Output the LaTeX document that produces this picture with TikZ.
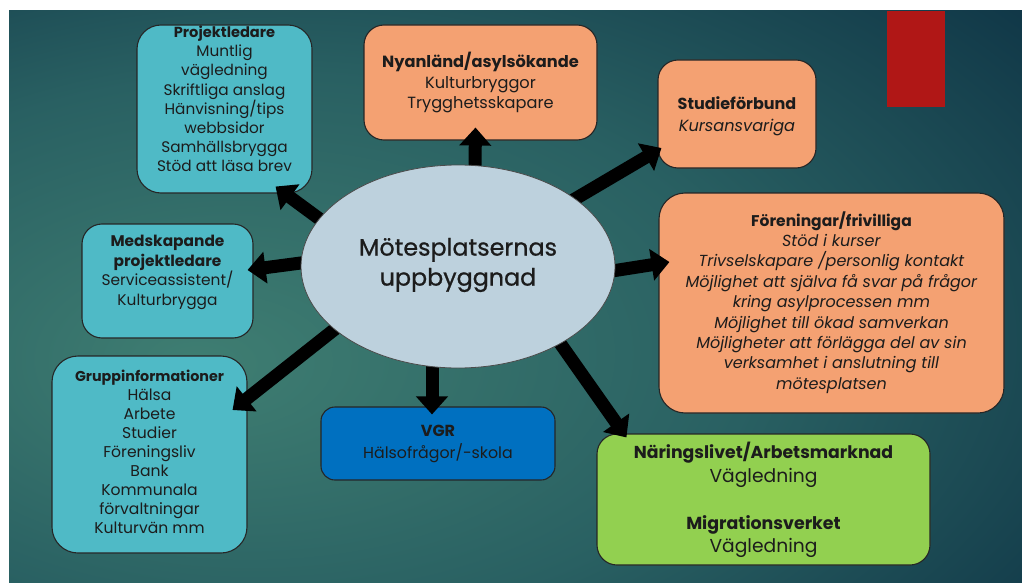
\documentclass[tikz,border=0pt]{standalone}
\usepackage{fontspec}
\setmainfont{Poppins}
\usetikzlibrary{arrows.meta,shapes.geometric}
\definecolor{bgin}{HTML}{3F7E72}
\definecolor{bgmid}{HTML}{296062}
\definecolor{bgout}{HTML}{0D3244}
\definecolor{tealbox}{HTML}{4FBAC6}
\definecolor{orangebox}{HTML}{F4A172}
\definecolor{bluebox}{HTML}{0070C0}
\definecolor{greenbox}{HTML}{92D050}
\definecolor{ellfill}{HTML}{BDD1DD}
\definecolor{redrect}{HTML}{B01716}
\definecolor{txtcol}{HTML}{1C1C1C}
\pgfdeclareradialshading{bgshade}{\pgfpoint{-16bp}{-6bp}}{color(0bp)=(bgin); color(24bp)=(bgmid); color(47bp)=(bgout); color(100bp)=(bgout)}
\newcommand\fsz[2]{\fontsize{#1}{#2}\selectfont}
\newcommand\bl[2]{\textbf{\fontsize{#1}{10}\selectfont #2}}
\tikzset{
  box/.style={draw=black!85, line width=1.1pt, rounded corners=20pt, inner sep=0pt},
  txt/.style={align=center, inner sep=0pt, text=txtcol},
  arr/.style={line width=13pt, -{Triangle[width=31pt,length=18pt]}, shorten <=-15pt, black}
}
\begin{document}
\begin{tikzpicture}[x=1pt,y=-1pt]
\useasboundingbox (0,0) rectangle (1022,583);
\fill[white] (0,0) rectangle (1022,583);
\path[shading=bgshade] (9,11) rectangle (1022,583);
\fill[redrect] (887,11) rectangle (945,107);
% boxes
\node[box, fill=tealbox, minimum width=175pt, minimum height=168pt, rounded corners=24pt] (pl) at (224.5,109) {};
\node[box, fill=orangebox, minimum width=233pt, minimum height=115pt] (ny) at (480.5,82.5) {};
\node[box, fill=orangebox, minimum width=158pt, minimum height=108pt] (sf) at (737,114) {};
\node[box, fill=orangebox, minimum width=345pt, minimum height=220pt, rounded corners=26pt] (fo) at (831.5,303) {};
\node[box, fill=tealbox, minimum width=171pt, minimum height=114pt] (md) at (167.5,281) {};
\node[box, fill=tealbox, minimum width=195pt, minimum height=197pt, rounded corners=26pt] (gi) at (149.5,454.5) {};
\node[box, fill=bluebox, minimum width=234pt, minimum height=73pt, rounded corners=14pt] (vgr) at (438,443.5) {};
\node[box, fill=greenbox, minimum width=333pt, minimum height=131pt] (gr) at (763.5,499.5) {};
% ellipse anchors (the visible ellipse is filled after the arrows)
\path (458,266.5) coordinate (ellc);
\node[draw=none, ellipse, minimum width=314pt, minimum height=203pt, inner sep=0pt] (ell) at (ellc) {};
% arrows
\draw[arr] (ell.161) -- ([shift={(-37,-7)}]pl.south east);
\draw[arr] ([xshift=17]ell.north) -- ([shift={(-5,-13)}]ny.south);
\draw[arr] (ell.30) -- ([shift={(4,34)}]sf.west);
\draw[arr] ([yshift=-4]ell.east) -- ([shift={(11,-41)}]fo.west);
\draw[arr] ([yshift=3.5]ell.west) -- ([shift={(-6,-11)}]md.east);
\draw[arr] (ell.207.7) -- ([shift={(-15,-44.5)}]gi.east);
\draw[arr] ([xshift=-26]ell.south) -- ([shift={(-6,8)}]vgr.north);
\draw[arr] (ell.-37) -- ([shift={(30,4)}]gr.north west);
\fill[ellfill, draw=black!70, line width=0.8pt] (ellc) ellipse [x radius=157, y radius=101.5];
% texts
\node[txt, font=\fsz{23.8}{30}\addfontfeature{FakeBold=0.8}] (ellt) at (458,265) {Mötesplatsernas\\uppbyggnad};
\node[txt, font=\fsz{15.3}{19.2}] (plt) at (224.5,99) {\bl{14.6}{Projektledare}\\Muntlig\\vägledning\\Skriftliga anslag\\Hänvisning/tips\\webbsidor\\Samhällsbrygga\\Stöd att läsa brev};
\node[txt, font=\fsz{16.2}{20.5}] (nyt) at (480.5,82.5) {\bl{16.2}{Nyanländ/asylsökande}\\Kulturbryggor\\Trygghetsskapare};
\node[txt, font=\fsz{16.2}{22}] (sft) at (737,116) {\bl{16}{Studieförbund}\\\textit{Kursansvariga}};
\node[txt, font=\fsz{16}{20.4}] (fot) at (831.5,302.5) {\bl{15.5}{Föreningar/frivilliga}\\\textit{Stöd i kurser}\\\textit{Trivselskapare /personlig kontakt}\\\textit{Möjlighet att själva få svar på frågor}\\\textit{kring asylprocessen mm}\\\textit{Möjlighet till ökad samverkan}\\\textit{Möjligheter att förlägga del av sin}\\\textit{verksamhet i anslutning till}\\\textit{mötesplatsen}};
\node[txt, font=\fsz{15.4}{19.7}] (mdt) at (167.5,272.5) {\bl{15.4}{Medskapande}\\\bl{15.4}{projektledare}\\Serviceassistent/\\Kulturbrygga};
\node[txt, font=\fsz{15.6}{19}] (git) at (149.5,452) {\bl{14.3}{Gruppinformationer}\\Hälsa\\Arbete\\Studier\\Föreningsliv\\Bank\\Kommunala\\förvaltningar\\Kulturvän mm};
\node[txt, font=\fsz{15.8}{22}] (vgrt) at (438,444) {\bl{16}{VGR}\\Hälsofrågor/-skola};
\node[txt, font=\fsz{18.7}{23.5}] (grt) at (763.5,500) {\bl{17.3}{Näringslivet/Arbetsmarknad}\\Vägledning\\[23.5pt]\bl{17.4}{Migrationsverket}\\Vägledning};
\end{tikzpicture}
\end{document}
